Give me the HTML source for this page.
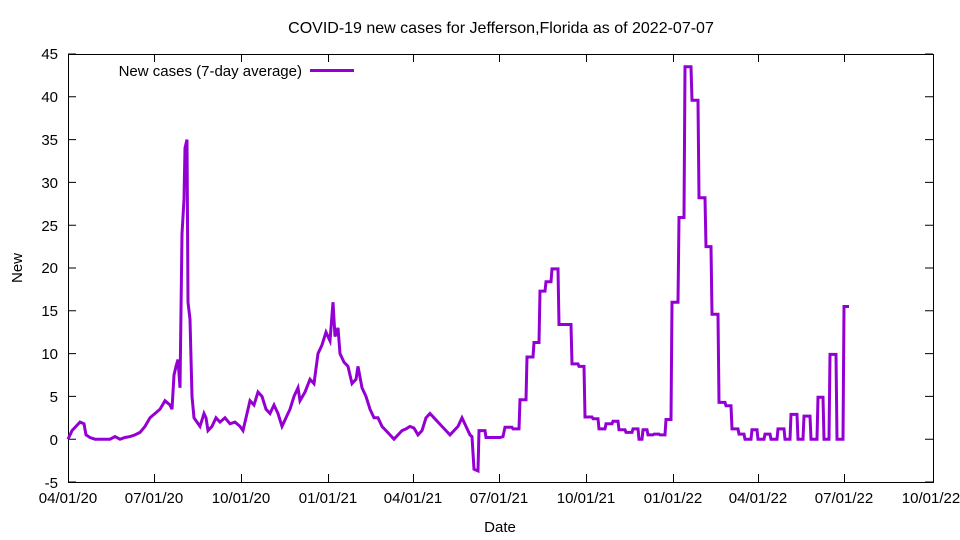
<!DOCTYPE html>
<html><head><meta charset="utf-8"><style>
html,body{margin:0;padding:0;background:#fff;}
svg{display:block;font-family:"Liberation Sans",sans-serif;font-size:15px;}
</style></head><body>
<svg width="960" height="540" viewBox="0 0 960 540" xmlns="http://www.w3.org/2000/svg">
<rect width="960" height="540" fill="#fff"/>
<text x="501" y="33" text-anchor="middle" font-size="16">COVID-19 new cases for Jefferson,Florida as of 2022-07-07</text>
<g stroke="#000" stroke-width="1" fill="none">
<rect x="68.5" y="54.5" width="865" height="428"/>
</g>
<g stroke="#000" stroke-width="1">
<path d="M68 439.2h8M933 439.2h-8M68 396.4h8M933 396.4h-8M68 353.6h8M933 353.6h-8M68 310.8h8M933 310.8h-8M68 268h8M933 268h-8M68 225.2h8M933 225.2h-8M68 182.4h8M933 182.4h-8M68 139.6h8M933 139.6h-8M68 96.8h8M933 96.8h-8M68 482h8M933 482h-8M68 54h8M933 54h-8"/>
<path d="M154.5 482v-8M154.5 54v8M241.5 482v-8M241.5 54v8M328.5 482v-8M328.5 54v8M413.5 482v-8M413.5 54v8M499.5 482v-8M499.5 54v8M586.5 482v-8M586.5 54v8M673.5 482v-8M673.5 54v8M758.5 482v-8M758.5 54v8M844.5 482v-8M844.5 54v8"/>
</g>
<g text-anchor="end">
<text x="58" y="488">-5</text><text x="58" y="445">0</text><text x="58" y="402">5</text>
<text x="58" y="359">10</text><text x="58" y="316">15</text><text x="58" y="273">20</text>
<text x="58" y="231">25</text><text x="58" y="188">30</text><text x="58" y="145">35</text>
<text x="58" y="102">40</text><text x="58" y="59">45</text>
</g>
<g text-anchor="middle">
<text x="68" y="503">04/01/20</text><text x="154" y="503">07/01/20</text><text x="241" y="503">10/01/20</text>
<text x="328" y="503">01/01/21</text><text x="413" y="503">04/01/21</text><text x="499" y="503">07/01/21</text>
<text x="586" y="503">10/01/21</text><text x="673" y="503">01/01/22</text><text x="758" y="503">04/01/22</text>
<text x="844" y="503">07/01/22</text><text x="931" y="503">10/01/22</text>
<text x="500" y="532">Date</text>
<text x="22" y="268" transform="rotate(-90 22 268)">New</text>
</g>
<text x="302" y="76" text-anchor="end">New cases (7-day average)</text>
<path d="M310 70.5h44" stroke="#9400d3" stroke-width="3"/>
<polyline fill="none" stroke="#9400d3" stroke-width="3" stroke-linejoin="miter" points="
68,439.2 72,430.6 76,426.4 80,422.1 84,423.8 86,434.9 90,437.5 95,439.2 110,439.2 115,436.6 120,439.2 125,437.5 130,436.6 135,434.9 140,432.4 145,426.4 150,417.8 155,413.5 160,409.2 165,400.7 170,405 172,409.2 174,375 176,366.4 178,359.6 180,387.8 182,233.8 184,199.5 185,148.2 187,139.6 188,302.2 190,319.4 192,396.4 194,417.8 197,422.1 200,426.4 204,413.5 206,417.8 208,430.6 212,426.4 216,417.8 220,422.1 225,417.8 230,423.8 235,422.1 240,426.4 243,430.6 246,417.8 250,400.7 254,405 258,392.1 262,396.4 266,409.2 270,413.5 274,405 278,413.5 282,426.4 286,417.8 290,409.2 294,396.4 298,387.8 300,400.7 305,392.1 310,379.3 314,383.6 318,353.6 322,345 326,332.2 330,340.8 333,302.2 335,336.5 338,327.9 340,353.6 344,362.2 348,366.4 352,383.6 356,379.3 358,366.4 362,387.8 366,396.4 370,409.2 374,417.8 378,417.8 382,426.4 386,430.6 390,434.9 394,439.2 398,434.9 402,430.6 406,428.9 410,426.4 414,428.1 418,434.9 422,430.6 426,417.8 430,413.5 434,417.8 438,422.1 442,426.4 446,430.6 450,434.9 454,430.6 458,426.4 462,417.8 466,426.4 470,434.9 472,436.6 474,469.2 478,470.9 479,430.6 485,430.6 486,437.5 500,437.5 503,436.6 505,427.2 512,427.2 513,428.9 519,428.9 520,399.8 526,399.8 527,357 533,357 534,342.5 539,342.5 540,291.1 545,291.1 546,281.7 551,281.7 552,268.9 558,268.9 559,324.5 571,324.5 572,363.9 578,363.9 579,366.4 584,366.4 585,417 592,417 593,418.7 598,418.7 599,428.9 605,428.9 606,423.8 612,423.8 613,421.2 618,421.2 619,429.8 625,429.8 626,432.4 632,432.4 633,428.9 638,428.9 639,439.2 642,439.2 643,429.8 647,429.8 648,434.9 653,434.9 654,434.1 659,434.1 660,434.9 665,434.9 666,419.5 671,419.5 672,302.2 678,302.2 679,217.5 684,217.5 685,66.8 691,66.8 692,100.2 698,100.2 699,197.8 705,197.8 706,246.6 711,246.6 712,314.2 718,314.2 719,402.4 725,402.4 726,405.8 731,405.8 732,428.9 738,428.9 739,434.1 744,434.1 745,439.2 751,439.2 752,429.8 757,429.8 758,439.2 764,439.2 765,434.1 770,434.1 771,439.2 777,439.2 778,428.9 784,428.9 785,439.2 790,439.2 791,414.4 797,414.4 798,439.2 803,439.2 804,416.1 810,416.1 811,439.2 817,439.2 818,397.3 823,397.3 824,439.2 829,439.2 830,354.4 836,354.4 837,439.2 843,439.2 844,306.5 849,306.5"/>
</svg>
</body></html>
